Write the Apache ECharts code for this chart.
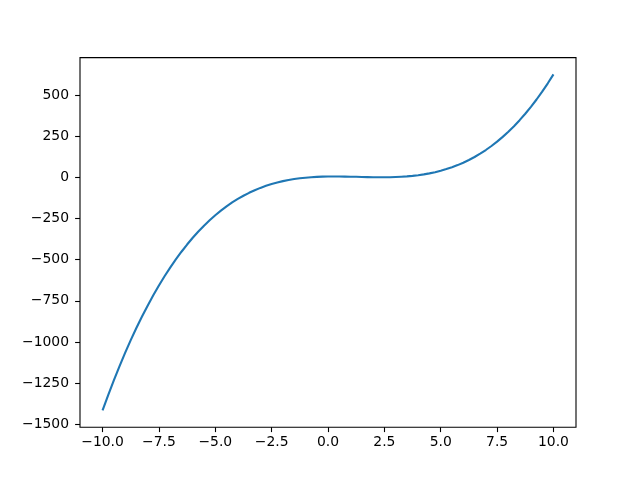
<!DOCTYPE html>
<html>
<head>
<meta charset="utf-8">
<script src="https://cdn.jsdelivr.net/npm/echarts@6/dist/echarts.min.js"></script>
<style>html,body{margin:0;padding:0;background:#fff;}#chart{width:640px;height:480px;}</style>
</head>
<body>
<div id="chart"></div>
<script>
const xValues = [-10,-9.75,-9.5,-9.25,-9,-8.75,-8.5,-8.25,-8,-7.75,-7.5,-7.25,-7,-6.75,-6.5,-6.25,-6,-5.75,-5.5,-5.25,-5,-4.75,-4.5,-4.25,-4,-3.75,-3.5,-3.25,-3,-2.75,-2.5,-2.25,-2,-1.75,-1.5,-1.25,-1,-0.75,-0.5,-0.25,0,0.25,0.5,0.75,1,1.25,1.5,1.75,2,2.25,2.5,2.75,3,3.25,3.5,3.75,4,4.25,4.5,4.75,5,5.25,5.5,5.75,6,6.25,6.5,6.75,7,7.25,7.5,7.75,8,8.25,8.5,8.75,9,9.25,9.5,9.75,10];
const yValues = [-1415,-1321.6,-1232.4,-1147.2,-1066,-988.7,-915.1,-845.3,-779,-716.2,-656.9,-600.8,-548,-498.3,-451.6,-407.9,-367,-328.9,-293.4,-260.5,-230,-201.9,-176.1,-152.5,-131,-111.5,-93.9,-78.1,-64,-51.5,-40.6,-31.1,-23,-16.1,-10.4,-5.7,-2,0.8,2.9,4.2,5,5.3,5.1,4.7,4,3.2,2.4,1.6,1,0.6,0.6,1.0,2,3.6,5.9,9.0,13,18.0,24.1,31.4,40,50.0,61.4,74.4,89,105.4,123.6,143.8,166,190.3,216.9,245.7,277,310.8,347.1,386.2,428,472.7,520.4,571.1,625];
const xTicks = [-10,-7.5,-5,-2.5,0,2.5,5,7.5,10];
const yTicks = [-1500,-1250,-1000,-750,-500,-250,0,250,500];

const fmtX = v => v.toFixed(1).replace('-', '\u2212');
const fmtY = v => String(v).replace('-', '\u2212');

const chart = echarts.init(document.getElementById('chart'), null, {renderer: 'canvas'});
const font = {fontFamily: 'DejaVu Sans', fontSize: 13.9, color: '#000'};
chart.setOption({
  animation: false,
  backgroundColor: '#fff',
  grid: {left: 102.55, right: 86.55, top: 95, bottom: 55.6, containLabel: false},
  xAxis: {
    type: 'value', min: xTicks[0], max: xTicks[xTicks.length-1], interval: 2.5,
    offset: 2.8,
    axisLine: {show: false, onZero: false},
    axisTick: {show: true, length: 4.9, lineStyle: {color: '#000', width: 1.1}},
    splitLine: {show: false},
    axisLabel: Object.assign({margin: 8.5, formatter: fmtX}, font)
  },
  yAxis: {
    type: 'value', min: yTicks[0], max: yTicks[yTicks.length-1], interval: 250,
    offset: 22.55,
    axisLine: {show: false, onZero: false},
    axisTick: {show: true, length: 4.9, lineStyle: {color: '#000', width: 1.1}},
    splitLine: {show: false},
    axisLabel: Object.assign({margin: 11, formatter: fmtY}, font)
  },
  graphic: [{
    type: 'rect', shape: {x: 80, y: 57.6, width: 496, height: 369.6},
    style: {fill: null, stroke: '#000', lineWidth: 1.1}, z: 10
  }],
  series: [{
    type: 'line',
    data: xValues.map((x, i) => [x, yValues[i]]),
    showSymbol: false,
    smooth: false,
    clip: false,
    lineStyle: {color: '#1f77b4', width: 2.1, join: 'round', cap: 'butt'},
    itemStyle: {color: '#1f77b4'}
  }]
});
</script>
</body>
</html>
